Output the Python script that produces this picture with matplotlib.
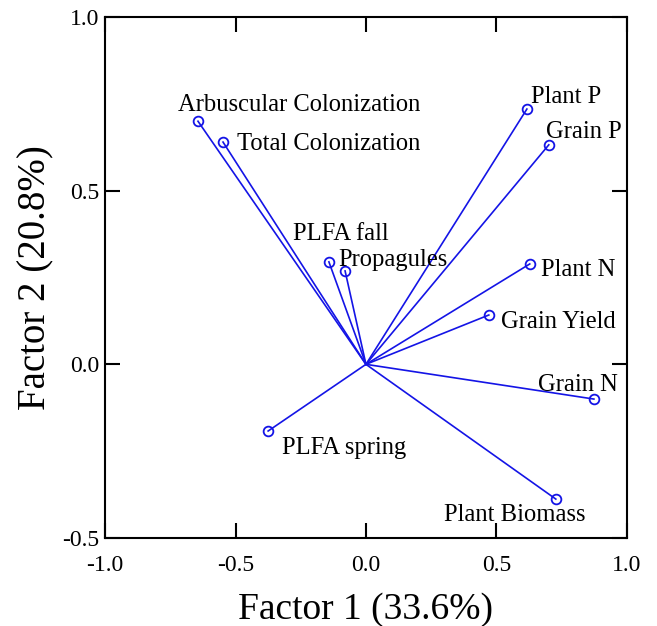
import numpy as np
import matplotlib.pyplot as plt

plt.rcParams['font.family'] = ['Liberation Serif', 'DejaVu Serif']

#-----------------Loadings--------------------------
names = ['Arbuscular Colonization', 'Total Colonization', 'PLFA fall', 'Propagules',
         'Plant P', 'Grain P', 'Plant N', 'Grain Yield', 'Grain N',
         'Plant Biomass', 'PLFA spring']
f1 = [-0.644, -0.548, -0.142, -0.080, 0.617, 0.701, 0.628, 0.471, 0.874, 0.728, -0.375]
f2 = [0.700, 0.640, 0.295, 0.269, 0.735, 0.632, 0.289, 0.142, -0.100, -0.388, -0.192]

# label offsets in pixels (dx, dy) and horizontal alignment
offsets = [(-20, 16, 'left'), (14, -2, 'left'), (12, 28, 'center'), (-7, 11, 'left'),
           (4, 12, 'left'), (-3, 13, 'left'), (11, -6, 'left'), (12, -7, 'left'),
           (24, 14, 'right'), (30, -16, 'right'), (14, -17, 'left')]

blue = '#1414e6'

#-----------------Plot--------------------------
fig = plt.figure(figsize=(6.57, 6.26), dpi=100)
ax = fig.add_axes([0.160, 0.1406, 0.794, 0.8322])

for x, y in zip(f1, f2):
    ax.plot([0, x], [0, y], color=blue, lw=1.2)
ax.plot(f1, f2, 'o', mfc='none', mec=blue, mew=1.3, ms=7)

for name, x, y, (dx, dy, ha) in zip(names, f1, f2, offsets):
    ax.annotate(name, (x, y), xytext=(dx, dy), textcoords='offset pixels',
                ha=ha, va='center', fontsize=17.7)

ax.set_xlim(-1.0, 1.0)
ax.set_ylim(-0.5, 1.0)
ax.set_xticks(np.arange(-1.0, 1.01, 0.5))
ax.set_yticks(np.arange(-0.5, 1.01, 0.5))
ax.set_xticklabels(['-1.0', '-0.5', '0.0', '0.5', '1.0'])
ax.set_yticklabels(['-0.5', '0.0', '0.5', '1.0'])
ax.tick_params(direction='in', length=11, width=1.5, labelsize=17,
               top=True, right=True, pad=4)
ax.tick_params(axis='x', pad=12)
for s in ax.spines.values():
    s.set_linewidth(1.5)

ax.set_xlabel('Factor 1 (33.6%)', fontsize=27, labelpad=12)
ax.set_ylabel('Factor 2 (20.8%)', fontsize=28, labelpad=6)

fig.savefig('out.png', dpi=100)
